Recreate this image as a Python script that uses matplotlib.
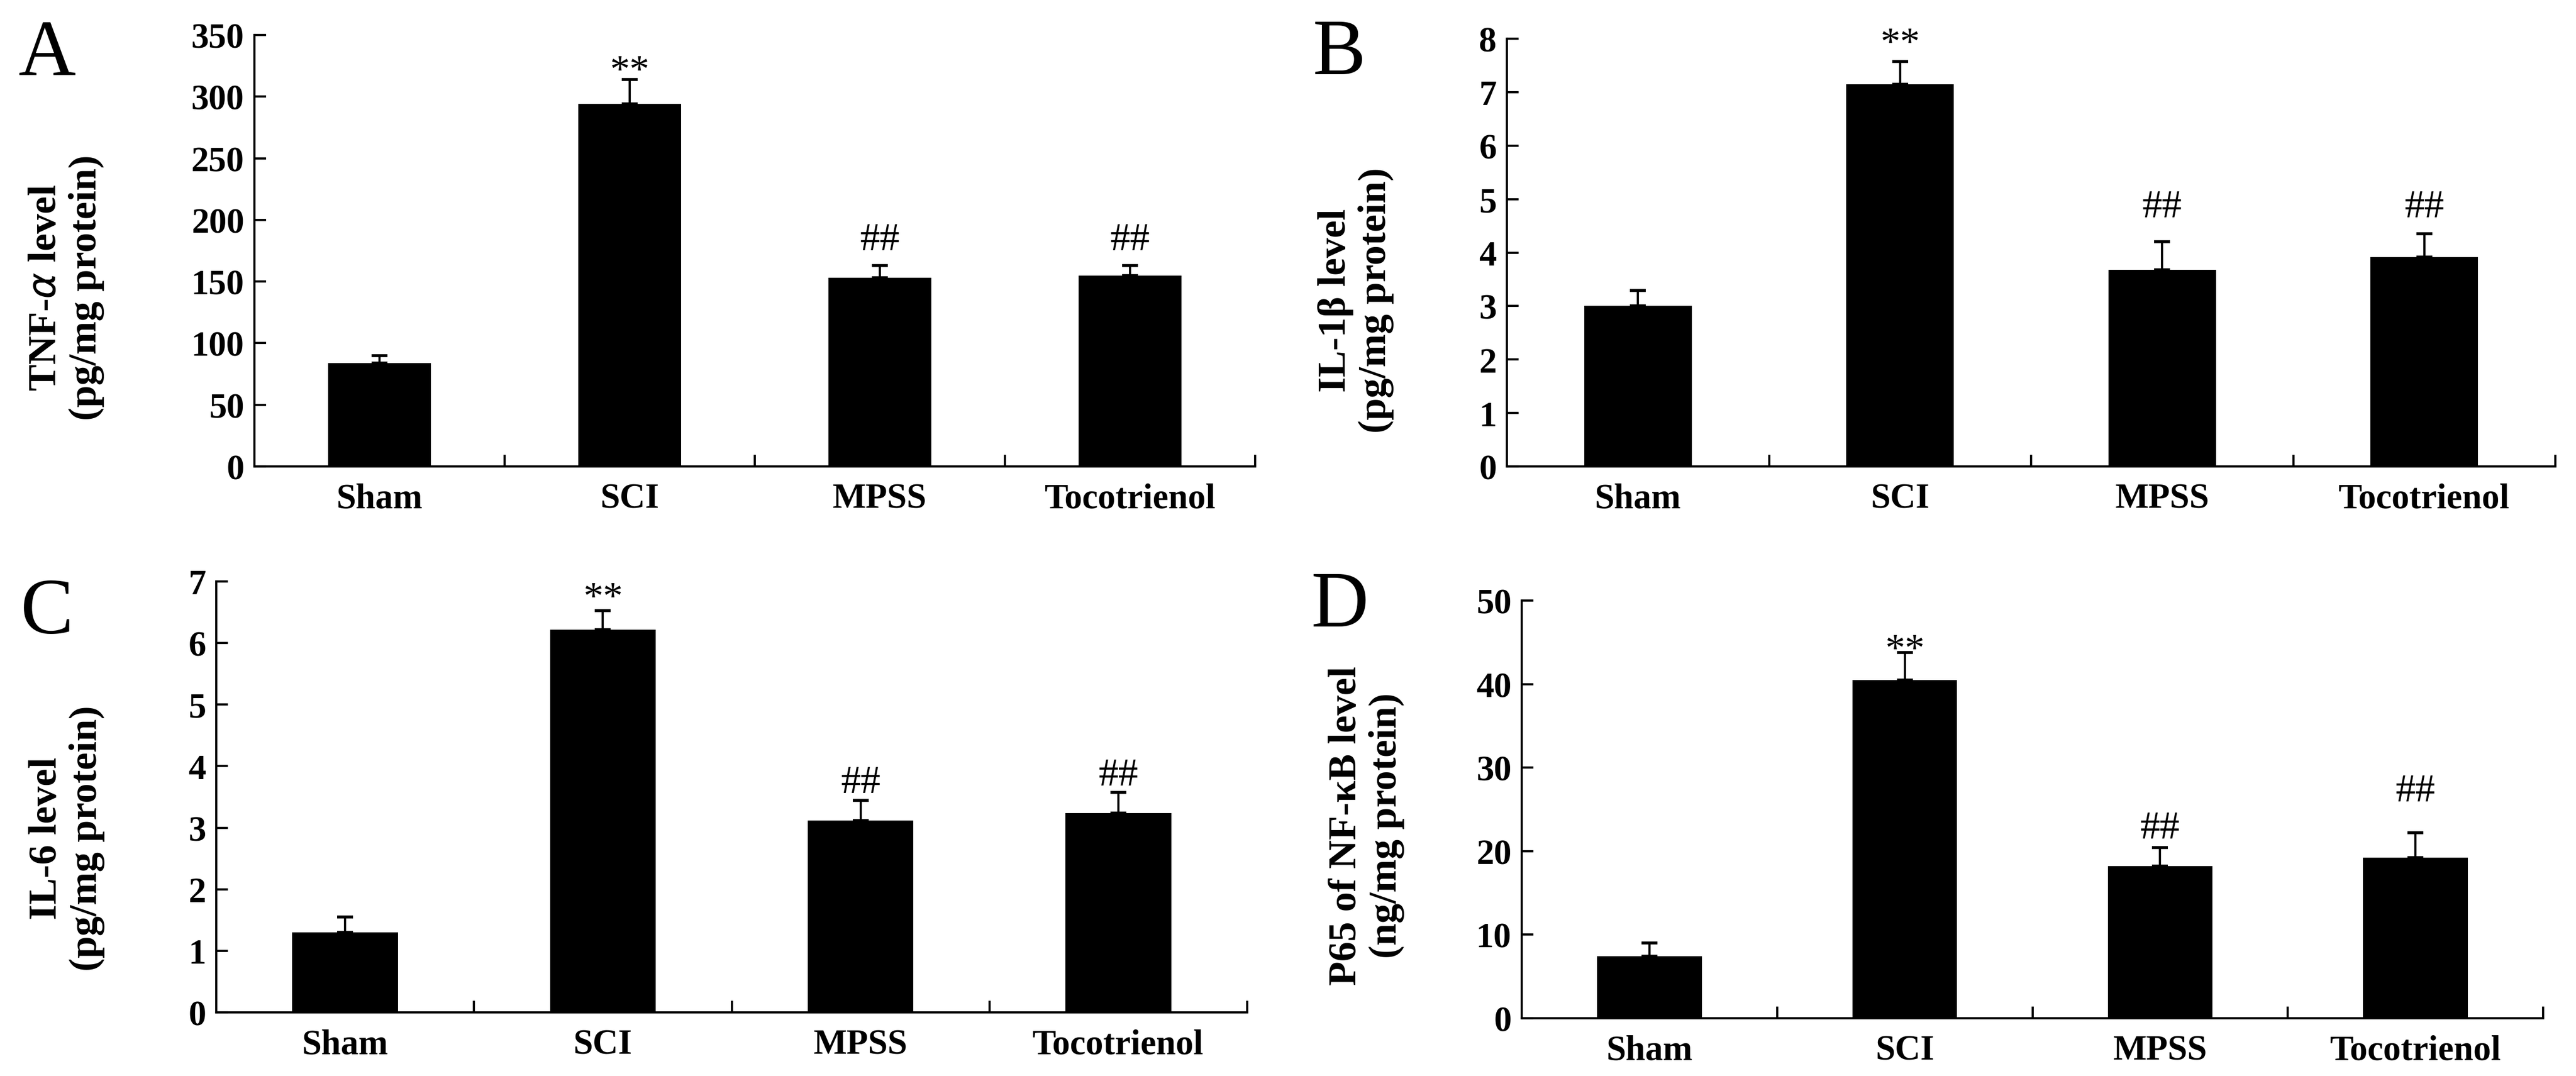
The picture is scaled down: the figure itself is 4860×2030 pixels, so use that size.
import matplotlib
matplotlib.use('Agg')
import matplotlib.pyplot as plt
from matplotlib.ticker import FixedLocator

# ---------------- data ----------------
categories = ['Sham', 'SCI', 'MPSS', 'Tocotrienol']

tnf_mean = [84, 294, 153, 155]
tnf_err = [6, 20, 10, 8]
tnf_marks = ['', '**', '##', '##']
tnf_mark_y = [0, 312, 176, 176]
tnf_ticks = [0, 50, 100, 150, 200, 250, 300, 350]

il1b_mean = [3.0, 7.15, 3.68, 3.92]
il1b_err = [0.29, 0.42, 0.52, 0.43]
il1b_marks = ['', '**', '##', '##']
il1b_mark_y = [0, 7.71, 4.67, 4.67]
il1b_ticks = [0, 1, 2, 3, 4, 5, 6, 7, 8]

il6_mean = [1.30, 6.22, 3.12, 3.24]
il6_err = [0.25, 0.31, 0.32, 0.33]
il6_marks = ['', '**', '##', '##']
il6_mark_y = [0, 6.56, 3.57, 3.69]
il6_ticks = [0, 1, 2, 3, 4, 5, 6, 7]

p65_mean = [7.4, 40.5, 18.2, 19.2]
p65_err = [1.6, 3.3, 2.2, 3.0]
p65_marks = ['', '**', '##', '##']
p65_mark_y = [0, 42.8, 21.6, 26.0]
p65_ticks = [0, 10, 20, 30, 40, 50]

W, H = 4860, 2031
fig = plt.figure(figsize=(W / 100, H / 100), dpi=100)
fig.patch.set_facecolor('white')

SERIF = 'Liberation Serif'


def rect(l, r, top, bot):
    return [l / W, 1 - bot / H, (r - l) / W, (bot - top) / H]


panels = [
    dict(rect=rect(480, 2368, 67, 881), mean=tnf_mean, err=tnf_err, marks=tnf_marks,
         mark_y=tnf_mark_y, ticks=tnf_ticks,
         ylabel='TNF-$\\mathit{\\alpha}$ level\n(pg/mg protein)',
         lab_xy=(125, 543), letter='A', let_xy=(34, 36)),
    dict(rect=rect(2843, 4821, 74, 881), mean=il1b_mean, err=il1b_err, marks=il1b_marks,
         mark_y=il1b_mark_y, ticks=il1b_ticks,
         ylabel='IL-1β level\n(pg/mg protein)',
         lab_xy=(2558, 567), letter='B', let_xy=(2477, 36)),
    dict(rect=rect(408, 2353, 1098, 1911), mean=il6_mean, err=il6_err, marks=il6_marks,
         mark_y=il6_mark_y, ticks=il6_ticks,
         ylabel='IL-6 level\n(pg/mg protein)',
         lab_xy=(126, 1582), letter='C', let_xy=(39, 1091)),
    dict(rect=rect(2871, 4798, 1134, 1922), mean=p65_mean, err=p65_err, marks=p65_marks,
         mark_y=p65_mark_y, ticks=p65_ticks,
         ylabel='P65 of NF-κB level\n(ng/mg protein)',
         lab_xy=(2578, 1558), letter='D', let_xy=(2474, 1077)),
]

x = list(range(len(categories)))

for p in panels:
    ax = fig.add_axes(p['rect'])
    ax.bar(x, p['mean'], width=0.41, color='black', zorder=2)
    ax.errorbar(x, p['mean'], yerr=[[0] * len(x), p['err']], fmt='none',
                ecolor='black', elinewidth=3, capsize=11, capthick=4, zorder=1)
    for xi, m, my in zip(x, p['marks'], p['mark_y']):
        if m:
            ax.text(xi, my, m, ha='center', va='baseline', fontsize=54,
                    family=SERIF, color='black')
    ax.set_xlim(-0.5, 3.5)
    ax.set_ylim(0, p['ticks'][-1])
    ax.set_yticks(p['ticks'])
    ax.set_yticklabels([str(t) for t in p['ticks']], family=SERIF,
                       fontweight='bold', fontsize=48)
    ax.set_xticks(x)
    ax.set_xticklabels(categories, family=SERIF, fontweight='bold', fontsize=48)
    ax.xaxis.set_minor_locator(FixedLocator([0.5, 1.5, 2.5, 3.5]))
    ax.tick_params(axis='x', which='major', length=0, pad=22)
    ax.tick_params(axis='x', which='minor', direction='in', length=16, width=3)
    ax.tick_params(axis='y', which='major', direction='in', length=16, width=3, pad=14)
    for s in ['top', 'right']:
        ax.spines[s].set_visible(False)
    for s in ['left', 'bottom']:
        ax.spines[s].set_linewidth(3)
    ax.patch.set_alpha(0)
    lx, ly = p['lab_xy']
    fig.text(lx / W, 1 - ly / H, p['ylabel'], rotation=90, ha='center', va='center',
             multialignment='center', family=SERIF, fontweight='bold', fontsize=54,
             linespacing=1.15)
    tx, ty = p['let_xy']
    fig.text(tx / W, 1 - ty / H, p['letter'], ha='left', va='top', family=SERIF,
             fontsize=108)

fig.savefig('out.png', dpi=100, facecolor='white')
